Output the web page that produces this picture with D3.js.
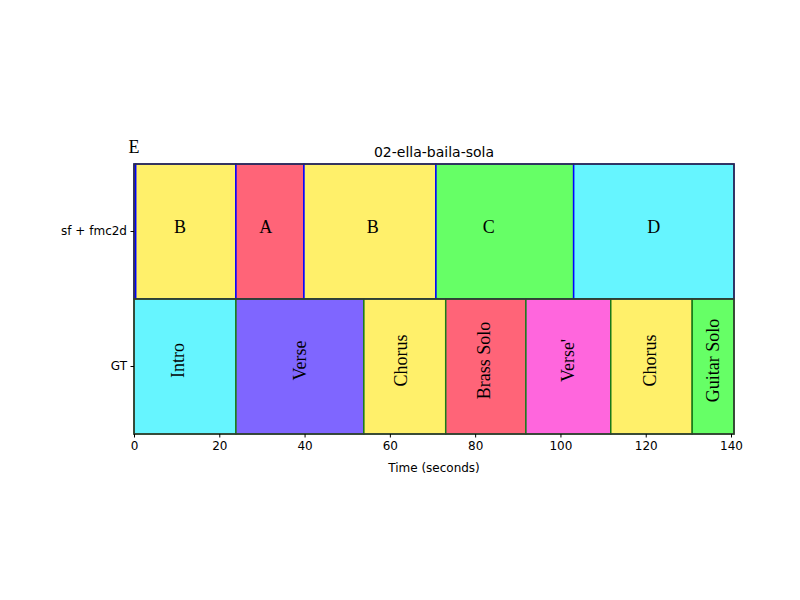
<!DOCTYPE html>
<html><head><meta charset="utf-8">
<script src="https://cdn.jsdelivr.net/npm/d3@7"></script>
<style>body{margin:0;background:#fff}</style>
</head><body>
<svg id="c" width="800" height="600"></svg>
<script>
const title = "02-ella-baila-sola";
const rows = ["sf + fmc2d", "GT"];
const xTicks = [0, 20, 40, 60, 80, 100, 120, 140];
const xMax = 140.7;

const estLabels = ["E", "B", "A", "B", "C", "D"];
const estStarts = [0, 0.4, 23.9, 39.85, 70.8, 103.1];
const estEnds   = [0.4, 23.9, 39.85, 70.8, 103.1, 140.7];
const estLabelX = [0.0, 10.8, 30.9, 56.0, 83.2, 121.9];

const gtLabels = ["Intro", "Verse", "Chorus", "Brass Solo", "Verse'", "Chorus", "Guitar Solo"];
const gtStarts = [0, 23.9, 53.9, 73.1, 91.9, 111.8, 130.9];
const gtEnds   = [23.9, 53.9, 73.1, 91.9, 111.8, 130.9, 140.7];
const gtLabelX = [10.3, 38.9, 62.6, 82.0, 101.7, 121.0, 135.7];

const colorMap = {"E":"#fff06a","B":"#fff06a","A":"#ff6478","C":"#66ff66","D":"#66f5ff",
  "Intro":"#66f5ff","Verse":"#7f66ff","Chorus":"#fff06a","Brass Solo":"#ff6478","Verse'":"#ff66dd","Guitar Solo":"#66ff66"};

const svg = d3.select("#c");
const L = 134, R = 734, T = 164, B = 434;
const x = d3.scaleLinear().domain([0, xMax]).range([L, R]);
const y = d3.scaleBand().domain(rows).range([T, B]);

const est = estLabels.map((l,i)=>({l, s:estStarts[i], e:estEnds[i], lx:estLabelX[i]}));
const gt = gtLabels.map((l,i)=>({l, s:gtStarts[i], e:gtEnds[i], lx:gtLabelX[i]}));

svg.append("g").selectAll("rect").data(est).join("rect")
  .attr("x", d=>x(d.s)).attr("width", d=>x(d.e)-x(d.s))
  .attr("y", y(rows[0])).attr("height", y.bandwidth())
  .attr("fill", d=>colorMap[d.l]).attr("stroke", "#0000ff").attr("stroke-width", 1.5);

svg.append("g").selectAll("rect").data(gt).join("rect")
  .attr("x", d=>x(d.s)).attr("width", d=>x(d.e)-x(d.s))
  .attr("y", y(rows[1])).attr("height", y.bandwidth())
  .attr("fill", d=>colorMap[d.l]).attr("stroke", "#1a7a1a").attr("stroke-width", 1.5);

// frame
svg.append("rect").attr("x",L).attr("y",T).attr("width",R-L).attr("height",B-T)
  .attr("fill","none").attr("stroke","#333").attr("stroke-width",1.5);
svg.append("line").attr("x1",L).attr("x2",R).attr("y1",y(rows[1])).attr("y2",y(rows[1]))
  .attr("stroke","#333").attr("stroke-width",1.5);

// est labels
svg.append("g").selectAll("text").data(est).join("text")
  .attr("x", d=>x(d.lx))
  .attr("y", (d,i)=> i===0 ? T-11 : y(rows[0]) + y.bandwidth()/2 + 1)
  .attr("text-anchor","middle")
  .attr("font-family","Liberation Serif, serif").attr("font-size", 18)
  .text(d=>d.l);

// gt labels rotated
svg.append("g").selectAll("text").data(gt).join("text")
  .attr("transform", d=>`translate(${x(d.lx)+6},${y(rows[1]) + y.bandwidth()/2 - 6}) rotate(-90)`)
  .attr("text-anchor","middle")
  .attr("font-family","Liberation Serif, serif").attr("font-size", 18)
  .text(d=>d.l);

// axes
const xa = svg.append("g").attr("transform",`translate(0,${B})`)
  .call(d3.axisBottom(x).tickValues(xTicks).tickSize(3.5).tickPadding(3.5));
xa.select(".domain").remove();
xa.selectAll("text").attr("font-family","DejaVu Sans, sans-serif").attr("font-size",12).attr("fill","#000");
xa.selectAll("line").attr("stroke","#000");

const ya = svg.append("g").attr("transform",`translate(${L},0)`)
  .call(d3.axisLeft(y).tickSize(3.5).tickPadding(3.5));
ya.select(".domain").remove();
ya.selectAll("text").attr("font-family","DejaVu Sans, sans-serif").attr("font-size",12).attr("fill","#000");
ya.selectAll("line").attr("stroke","#000");

svg.append("text").attr("x",(L+R)/2).attr("y",T-7).attr("text-anchor","middle")
  .attr("font-family","DejaVu Sans, sans-serif").attr("font-size",14).text(title);
svg.append("text").attr("x",(L+R)/2).attr("y",B+38).attr("text-anchor","middle")
  .attr("font-family","DejaVu Sans, sans-serif").attr("font-size",12).text("Time (seconds)");
</script>
</body></html>
